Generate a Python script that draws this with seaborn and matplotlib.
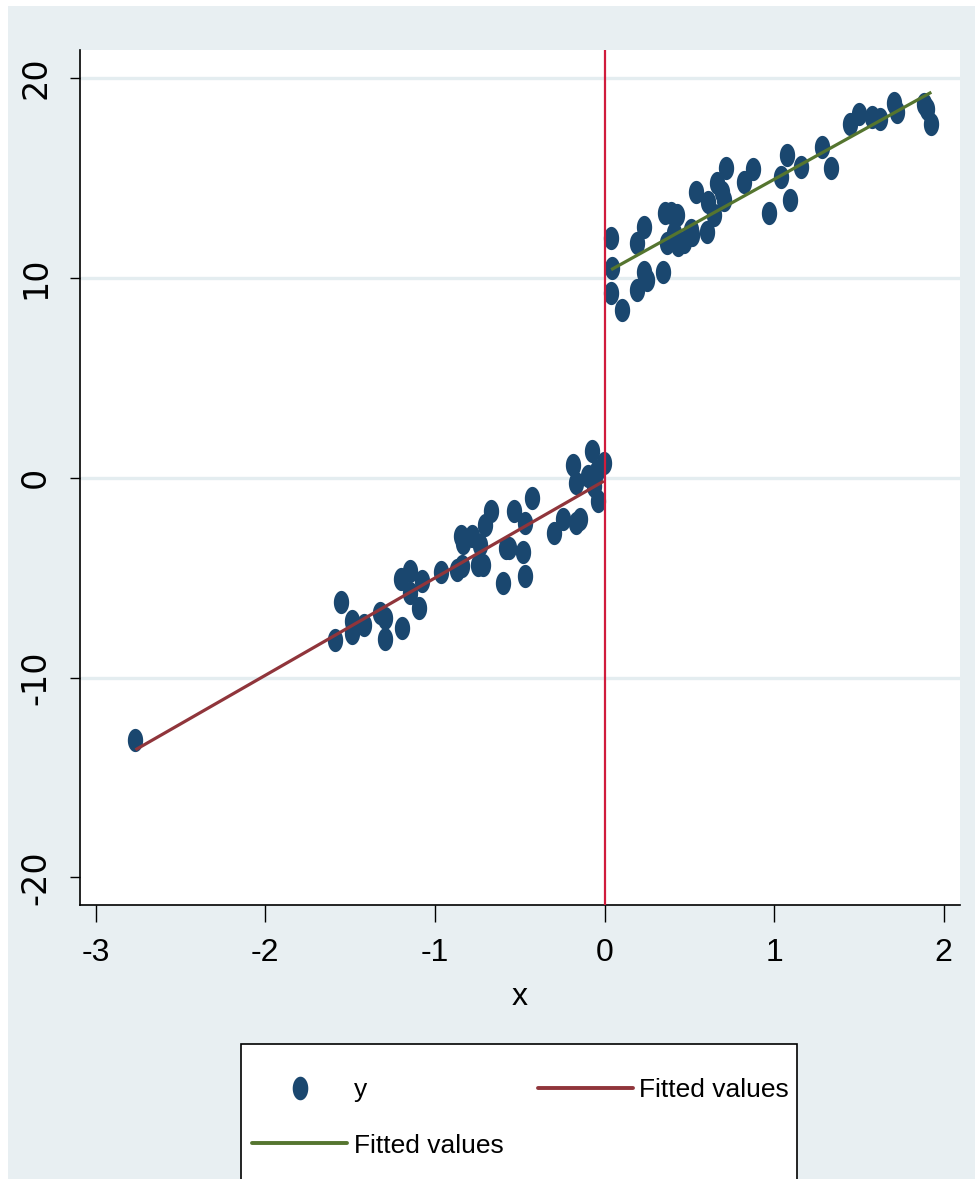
import numpy as np
import pandas as pd
import matplotlib
matplotlib.use("Agg")
import matplotlib.pyplot as plt
from matplotlib.path import Path
from matplotlib.markers import MarkerStyle
from matplotlib.lines import Line2D
from matplotlib.patches import Rectangle
import seaborn as sns

# ---- data ----
x_left = [-2.766, -1.592, -1.552, -1.487, -1.487, -1.420, -1.324, -1.293, -1.293,
          -1.192, -1.202, -1.145, -1.145, -1.096, -1.074, -0.965, -0.871, -0.841,
          -0.847, -0.837, -0.780, -0.735, -0.745, -0.714, -0.704, -0.670, -0.596,
          -0.582, -0.562, -0.532, -0.471, -0.481, -0.471, -0.426, -0.298, -0.243,
          -0.166, -0.146, -0.186, -0.166, -0.095, -0.074, -0.044, -0.040, -0.004,
          -0.064]
y_left = [-13.1, -8.1, -6.23, -7.18, -7.77, -7.35, -6.77, -7.02, -8.07,
          -7.52, -5.07, -4.68, -5.77, -6.52, -5.18, -4.73, -4.6, -4.43,
          -2.9, -3.27, -2.93, -3.35, -4.35, -4.35, -2.35, -1.68, -5.27,
          -3.52, -3.52, -1.68, -2.27, -3.73, -4.9, -1.02, -2.77, -2.07,
          -2.27, -2.07, 0.65, -0.27, 0.07, 1.32, 0.32, -1.18, 0.73,
          -0.43]
x_right = [0.039, 0.045, 0.039, 0.104, 0.189, 0.232, 0.232, 0.252, 0.193, 0.346,
           0.354, 0.389, 0.370, 0.429, 0.409, 0.433, 0.468, 0.507, 0.517, 0.537,
           0.606, 0.610, 0.645, 0.665, 0.694, 0.704, 0.714, 0.822, 0.877, 0.969,
           1.038, 1.078, 1.091, 1.156, 1.284, 1.333, 1.447, 1.500, 1.579, 1.624,
           1.707, 1.727, 1.884, 1.904, 1.927]
y_right = [11.98, 10.48, 9.23, 8.4, 11.73, 12.57, 10.32, 9.9, 9.4, 10.32,
           13.27, 13.23, 11.73, 13.15, 12.23, 11.65, 11.82, 12.4, 12.15, 14.32,
           12.32, 13.82, 13.15, 14.73, 14.32, 13.9, 15.48, 14.82, 15.43, 13.27,
           15.07, 16.15, 13.9, 15.53, 16.57, 15.48, 17.73, 18.23, 18.07, 17.98,
           18.77, 18.32, 18.73, 18.48, 17.73]
x_ticks = [-3, -2, -1, 0, 1, 2]
y_ticks = [-20, -10, 0, 10, 20]
y_grid = [-10, 0, 10, 20]
legend_labels = ["y", "Fitted values", "Fitted values"]
x_label = "x"

# ---- styling ----
BG = "#e8eff2"
NAVY = "#1a476f"
MAROON = "#90353b"
GREEN = "#55752f"
CUTOFF = "#d01c3c"
GRID = "#e4edf0"
FONT = ["Liberation Sans", "DejaVu Sans"]

sns.set_theme(style="white")
plt.rcParams["font.family"] = FONT
plt.rcParams["text.color"] = "black"
plt.rcParams["xtick.color"] = "black"
plt.rcParams["ytick.color"] = "black"
plt.rcParams["axes.labelcolor"] = "black"

W, H = 975, 1179
fig = plt.figure(figsize=(W / 100, H / 100), dpi=100, facecolor="white")
fig.patches.append(Rectangle((8 / W, 0), 1 - 8 / W, 1 - 6 / H, transform=fig.transFigure,
                             facecolor=BG, edgecolor="none", zorder=-10))
# legend box (extends past the bottom edge as in the reference)
fig.patches.append(Rectangle((241 / W, -0.05), (797 - 241) / W, (1179 - 1044) / H + 0.05,
                             transform=fig.transFigure, facecolor="white",
                             edgecolor="black", linewidth=1.2, zorder=-5))

ax = fig.add_axes([80 / W, 1 - 905 / H, (960 - 80) / W, (905 - 50) / H])
ax.set_facecolor("white")

# ellipse marker (taller than wide)
t = np.linspace(0, 2 * np.pi, 60)
verts = np.column_stack([0.66 * np.cos(t), np.sin(t)])
ell = Path(verts, closed=True)
mk = MarkerStyle(ell)

for gy in y_grid:
    ax.axhline(gy, color=GRID, lw=2.4, zorder=0)

df = pd.DataFrame({"x": x_left + x_right, "y": y_left + y_right})
sns.scatterplot(data=df, x="x", y="y", marker=mk, s=280, color=NAVY,
                linewidth=0, ax=ax, zorder=3, legend=False)

sns.regplot(x=np.array(x_left), y=np.array(y_left), scatter=False, ci=None,
            color=MAROON, line_kws=dict(lw=2.3, zorder=4, solid_capstyle="butt"), ax=ax)
sns.regplot(x=np.array(x_right), y=np.array(y_right), scatter=False, ci=None,
            color=GREEN, line_kws=dict(lw=2.3, zorder=4, solid_capstyle="butt"), ax=ax)

ax.axvline(0, color=CUTOFF, lw=1.6, zorder=5)

ax.set_xlim(-3.093, 2.096)
ax.set_ylim(-21.38, 21.41)
ax.set_xticks(x_ticks)
ax.set_yticks(y_ticks)
ax.set_xticklabels([str(v) for v in x_ticks], fontsize=23)
ax.set_yticklabels([str(v) for v in y_ticks], fontsize=24, family="DejaVu Sans",
                   rotation=90, va="center")
ax.tick_params(axis="x", direction="out", length=12, width=1, color="black", pad=12,
               bottom=True)
ax.tick_params(axis="y", direction="out", length=7, width=1, color="black", pad=13,
               left=True)
ax.set_xlabel(x_label, fontsize=23, labelpad=10)
ax.set_ylabel("")

for s in ["top", "right"]:
    ax.spines[s].set_visible(False)
for s in ["left", "bottom"]:
    ax.spines[s].set_visible(True)
    ax.spines[s].set_color("black")
    ax.spines[s].set_linewidth(1.2)

# legend entries
h_y = Line2D([], [], ls="none", marker=MarkerStyle(ell), markersize=17,
             markerfacecolor=NAVY, markeredgewidth=0)
h_red = Line2D([], [], color=MAROON, lw=2.8)
h_green = Line2D([], [], color=GREEN, lw=2.8)
leg = fig.legend([h_y, h_green, h_red],
                 [legend_labels[0], legend_labels[2], legend_labels[1]],
                 ncol=2, loc="upper left",
                 bbox_to_anchor=(252 / W, 1 - 1078 / H),
                 bbox_transform=fig.transFigure,
                 fontsize=19, frameon=False,
                 handlelength=3.6, handletextpad=0.25, columnspacing=1.3,
                 labelspacing=1.2, borderpad=0, borderaxespad=0)

fig.savefig("out.png", dpi=100, facecolor="white")
